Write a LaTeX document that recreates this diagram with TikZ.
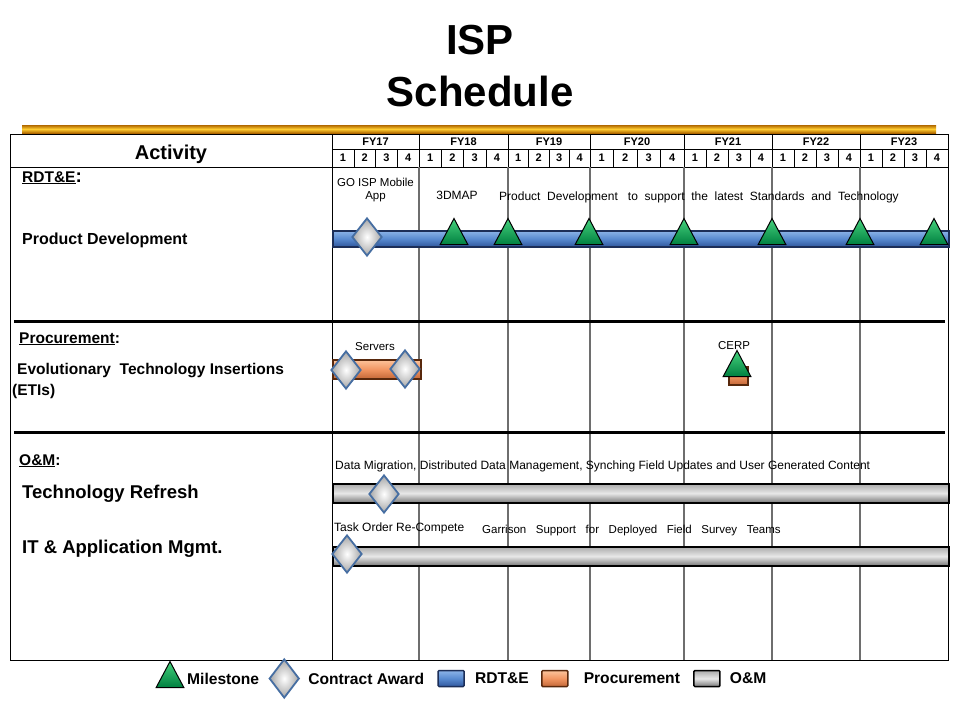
\documentclass[tikz,border=0pt]{standalone}
\usepackage{fontspec}
\setmainfont{Liberation Sans}
\usetikzlibrary{positioning,shapes.geometric}
\definecolor{rdtlight}{RGB}{140,180,232}
\definecolor{rdtmid}{RGB}{88,138,208}
\definecolor{rdtdark}{RGB}{48,88,158}
\definecolor{rdtline}{RGB}{28,46,88}
\definecolor{proclight}{RGB}{252,196,156}
\definecolor{procmid}{RGB}{242,150,98}
\definecolor{procdark}{RGB}{196,104,56}
\definecolor{procline}{RGB}{88,40,12}
\definecolor{omlight}{RGB}{170,170,170}
\definecolor{ommid}{RGB}{232,232,232}
\definecolor{omdark}{RGB}{120,120,120}
\definecolor{mslight}{RGB}{70,210,125}
\definecolor{msdark}{RGB}{0,128,64}
\definecolor{awardline}{RGB}{70,110,162}
\definecolor{goldedge}{RGB}{176,104,0}
\definecolor{goldlight}{RGB}{255,204,48}
\definecolor{fygray}{RGB}{110,110,110}

\begin{document}
\begin{tikzpicture}[x=1pt, y=-1pt,
  title/.style={font=\fontsize{42}{46}\selectfont\bfseries, inner sep=0, anchor=base},
  hdr/.style={font=\fontsize{11}{12}\selectfont\bfseries, inner sep=0},
  act/.style={font=\fontsize{15.5}{18}\selectfont\bfseries, inner sep=0, anchor=base west},
  actbig/.style={act, font=\fontsize{18.5}{21}\selectfont\bfseries},
  lbl/.style={font=\fontsize{11.5}{13}\selectfont, inner sep=0},
  lblbig/.style={lbl, font=\fontsize{12}{14}\selectfont},
  legtext/.style={font=\fontsize{15.6}{17}\selectfont\bfseries, inner sep=0},
  rdtfill/.style={draw=rdtline, top color=rdtlight, bottom color=rdtdark, middle color=rdtmid},
  procfill/.style={draw=procline, top color=proclight, bottom color=procdark, middle color=procmid},
  omfill/.style={draw=black, top color=omlight, bottom color=omdark, middle color=ommid},
  bar/.style={rectangle, line width=1.5pt, inner sep=0, anchor=north west},
  legbox/.style={rectangle, rounded corners=1pt, line width=1.5pt, inner sep=0,
                 minimum width=26, minimum height=16},
  milestone/.style={isosceles triangle, isosceles triangle apex angle=56,
                    shape border rotate=90, minimum width=26, minimum height=26,
                    inner sep=0, draw=black, line width=1pt,
                    top color=mslight, bottom color=msdark, anchor=south},
  award/.style={diamond, draw=awardline, line width=1.8pt, inner sep=0,
                minimum width=30, minimum height=38, inner color=white, outer color=gray!70},
  fyline/.style={draw=fygray, line width=1.2pt},
  divider/.style={line width=3pt}
]
\useasboundingbox (0,0) rectangle (960,720);
\fill[white] (0,0) rectangle (960,720);

%% ── Title ──────────────────────────────────────────────────────
\node[title] (isp) at (480,54) {ISP};
\node[title] (sched) at (480,106) {Schedule};
\shade[top color=goldedge, bottom color=goldedge, middle color=goldlight] (22,125) rectangle (936,133);

%% ── Table frame and header ─────────────────────────────────────
\draw (10,134) rectangle (948,660);
\draw (10,167) -- (948,167);
\draw (332,149) -- (948,149);
\draw (332,134) -- (332,660);
\foreach \x in {419,508,590,684,772,860} {
  \draw[fyline] (\x,167) -- (\x,660);
  \draw (\x,134) -- (\x,167);
}
\foreach \a/\b [count=\i from 17] in {332/419,419/508,508/590,590/684,684/772,772/860,860/948} {
  \node[hdr] (fy\i) at ({(\a+\b)/2},142) {FY\i};
  \foreach \q in {1,...,4}
    \node[hdr] (fy\i q\q) at ({\a+(\q-0.5)*(\b-\a)/4},157.5) {\q};
  \foreach \q in {1,2,3}
    \draw ({\a+\q*(\b-\a)/4},149) -- ({\a+\q*(\b-\a)/4},167);
}
\node[font=\fontsize{20}{22}\selectfont\bfseries, inner sep=0, anchor=base] (activity) at (171,159) {Activity};
\draw[divider] (14,321) -- (945,321);
\draw[divider] (14,432) -- (945,432);

%% ── Activities ─────────────────────────────────────────────────
\node[act] (rdte) at (22,182) {\underline{RDT\&E}{\fontsize{19}{20}\selectfont:}};
\node[act, font=\fontsize{16}{18}\selectfont\bfseries] (proddev) at (22,244) {Product Development};
\node[act] (procure) at (19,343) {\underline{Procurement}:};
\node[act] (eti) at (17,374) {Evolutionary~ Technology Insertions};
\node[act] (etiabbr) at (12,395) {(ETIs)};
\node[act] (om) at (19,465) {\underline{O\&M}:};
\node[actbig] (techref) at (22,498) {Technology Refresh};
\node[actbig] (itapp) at (22,553) {IT \& Application Mgmt.};

%% ── RDT&E ──────────────────────────────────────────────────────
\node[bar, rdtfill, minimum width=616, minimum height=16] (rdtbar) at (332,230) {};
\node[award] (goisp) at (367,237) {};
\foreach \x [count=\i] in {454,508,589,684,772,860,934}
  \node[milestone] (rdtms\i) at (\x,245) {};
\node[lbl, align=center, anchor=base] (goisptxt) at (375.5,199) {GO ISP Mobile\\App};
\node[lblbig, anchor=base] (dmaptxt) at (457,199) {3DMAP};
\node[lblbig, anchor=base west] (pdtxt) at (499,200) {Product~ Development~~ to~ support~ the~ latest~ Standards~ and~ Technology};

%% ── Procurement ────────────────────────────────────────────────
\node[bar, procfill, minimum width=88, minimum height=19] (servbar) at (332,359) {};
\node[award] (servaw1) at (346,370) {};
\node[award] (servaw2) at (405,369) {};
\node[lbl, anchor=base] (servtxt) at (375,350.5) {Servers};
\node[bar, procfill, minimum width=19, minimum height=18] (cerpbar) at (728,366) {};
\node[milestone] (cerpms) at (737,377) {};
\node[lbl, anchor=base] (cerptxt) at (734,349) {CERP};

%% ── O&M ────────────────────────────────────────────────────────
\node[bar, omfill, minimum width=616, minimum height=19] (refbar) at (332,483) {};
\node[award] (refaw) at (384,494) {};
\node[lblbig, anchor=base west] (reftxt) at (335,469) {Data Migration, Distributed Data Management, Synching Field Updates and User Generated Content};
\node[bar, omfill, minimum width=616, minimum height=19] (itbar) at (332,546) {};
\node[award] (itaw) at (347,554) {};
\node[lblbig, anchor=base west] (tasktxt) at (334,531) {Task Order Re-Compete};
\node[lbl, anchor=base west] (garrtxt) at (482,533) {Garrison~~~Support~~~for~~~Deployed~~~Field~~~Survey~~~Teams};

%% ── Legend ─────────────────────────────────────────────────────
\node[milestone] (legms) at (170,688) {};
\node[legtext, anchor=west] (legmstxt) at (187,678.5) {Milestone};
\node[award, minimum height=39, right=9pt of legmstxt] (legaw) {};
\node[legtext, right=8pt of legaw] (legawtxt) {Contract Award};
\node[legbox, rdtfill, right=13pt of legawtxt] (legrdt) {};
\node[legtext, right=10pt of legrdt] (legrdttxt) {RDT\&E};
\node[legbox, procfill, right=12pt of legrdttxt] (legproc) {};
\node[legtext, right=15pt of legproc] (legproctxt) {Procurement};
\node[legbox, omfill, right=13pt of legproctxt] (legom) {};
\node[legtext, right=9pt of legom] (legomtxt) {O\&M};

\end{tikzpicture}
\end{document}
